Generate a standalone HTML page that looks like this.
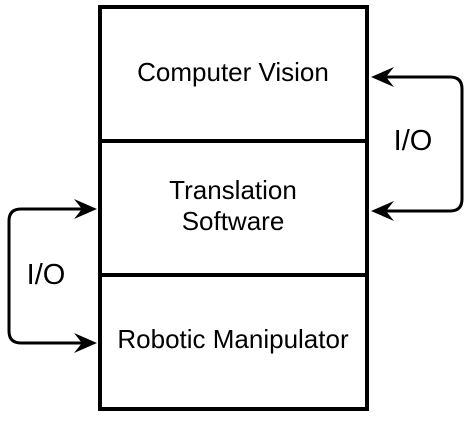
<!DOCTYPE html>
<html><head><style>
html,body{margin:0;padding:0;background:#fff;}
svg{display:block;}
text{font-family:"Liberation Sans",Arial,sans-serif;fill:#000;}
</style></head><body>
<svg width="469" height="424" viewBox="0 0 469 424" xmlns="http://www.w3.org/2000/svg">
<rect x="100" y="7" width="267" height="402" fill="#fff" stroke="#000" stroke-width="4"/>
<line x1="100" y1="141" x2="367" y2="141" stroke="#000" stroke-width="4"/>
<line x1="100" y1="275" x2="367" y2="275" stroke="#000" stroke-width="4"/>
<g fill="none" stroke="#000" stroke-width="3">
<path d="M385 77 H450 Q462 77 462 89 V199 Q462 211 450 211 H385"/>
<path d="M84 209 H21 Q9 209 9 221 V331 Q9 343 21 343 H84"/>
</g>
<g fill="#000">
<path d="M371 77 L394 67 L386 77 L394 87 Z"/>
<path d="M371 211 L394 201 L386 211 L394 221 Z"/>
<path d="M97 209 L74 199 L82 209 L74 219 Z"/>
<path d="M97 343 L74 333 L82 343 L74 353 Z"/>
</g>
<g font-size="26" text-anchor="middle">
<text x="233" y="81">Computer Vision</text>
<text x="233" y="199">Translation</text>
<text x="233" y="230">Software</text>
<text x="233" y="348">Robotic Manipulator</text>
</g>
<g font-size="29" text-anchor="middle">
<text x="413" y="150">I/O</text>
<text x="46" y="284">I/O</text>
</g>
</svg>
</body></html>
